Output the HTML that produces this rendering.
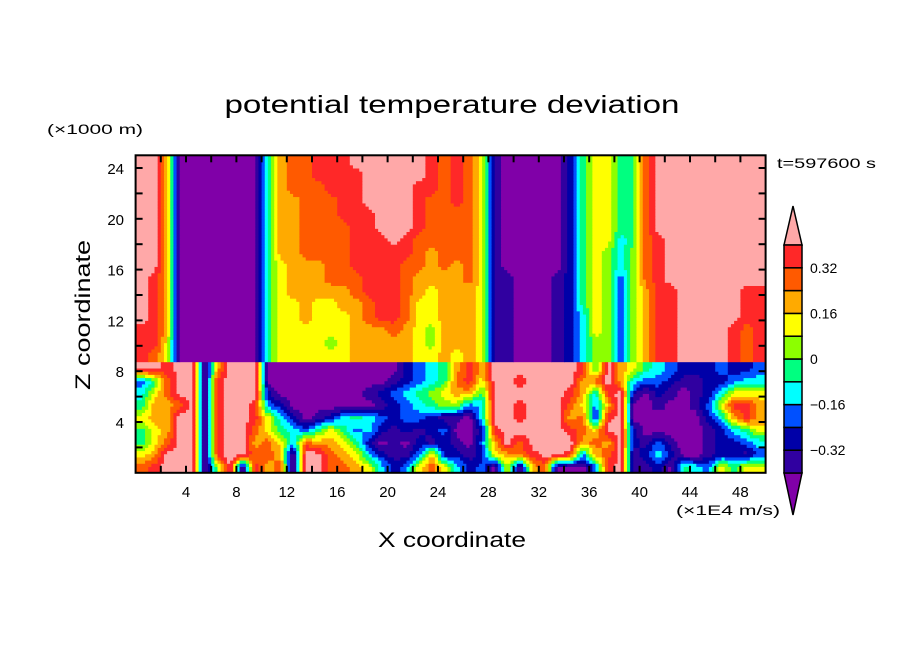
<!DOCTYPE html>
<html><head><meta charset="utf-8"><style>
html,body{margin:0;padding:0;background:#fff;}
svg{display:block;font-family:"Liberation Sans",sans-serif;}
</style></head><body>
<svg id="chart" width="904" height="654" viewBox="0 0 904 654" xmlns="http://www.w3.org/2000/svg">
<rect x="0" y="0" width="904" height="654" fill="#fff"/>
<g id="cells"></g>
<g id="axes"></g>
<g id="cbar"></g>
<text x="452" y="113" text-anchor="middle" font-size="25" textLength="455" lengthAdjust="spacingAndGlyphs">potential temperature deviation</text>
<text x="47" y="134" font-size="14" textLength="96" lengthAdjust="spacingAndGlyphs">(×1000 m)</text>
<text x="777" y="168" font-size="14" textLength="99" lengthAdjust="spacingAndGlyphs">t=597600 s</text>
<text x="676" y="515" font-size="14" textLength="104" lengthAdjust="spacingAndGlyphs">(×1E4 m/s)</text>
<text x="452" y="547" text-anchor="middle" font-size="21" textLength="148" lengthAdjust="spacingAndGlyphs">X coordinate</text>
<text x="0" y="0" transform="translate(90,315) rotate(-90)" text-anchor="middle" font-size="21" textLength="150" lengthAdjust="spacingAndGlyphs">Z coordinate</text>
</svg>
<script>
const levelColors = ["#8000a8","#3000a0","#0000a8","#0050ff","#00ffff","#00ff80","#8cff00","#ffff00","#ffaa00","#ff5a00","#ff2828","#ffa8a8"];
const levelLabels = ["0.32","0.16","0","-0.16","-0.32"];
const levelLabelBands = [9,7,5,3,1];
const xTicks = [4,8,12,16,20,24,28,32,36,40,44,48];
const yTicks = [4,8,12,16,20,24];
const inversionHeight = 8.7;
// level index per column x=0..49; first 16 values: upper layer rows z=24..9, last 9 values: lower layer rows z=8..0
const fieldCols = [
[11,11,11,11,11,11,11,11,11,11,11,11,11,10,10,10, 11,3,4,5,7,5,5,7,9],
[11,11,11,11,11,11,11,11,11,10,10,10,10,10,10,9, 11,5,7,8,8,7,7,8,10],
[8,8,8,8,8,8,8,8,8,8,8,8,8,8,7,7, 10,9,9,8,8,8,9,11,11],
[0,0,0,0,0,0,0,0,0,0,0,0,0,0,0,0, 11,11,11,9,11,11,11,11,11],
[0,0,0,0,0,0,0,0,0,0,0,0,0,0,0,0, 11,11,11,11,11,11,11,11,11],
[0,0,0,0,0,0,0,0,0,0,0,0,0,0,0,0, 0,0,0,0,0,0,0,0,0],
[0,0,0,0,0,0,0,0,0,0,0,0,0,0,0,0, 8,10,10,10,10,10,10,10,6],
[0,0,0,0,0,0,0,0,0,0,0,0,0,0,0,0, 11,11,11,11,11,11,11,11,11],
[0,0,0,0,0,0,0,0,0,0,0,0,0,0,0,0, 11,11,11,11,11,11,11,11,0],
[0,0,0,0,0,0,0,0,0,0,0,0,0,0,0,0, 11,11,11,10,10,9,8,9,10],
[5,5,5,5,5,5,5,5,5,5,5,5,5,5,5,5, 0,0,2,3,7,7,9,9,8],
[8,8,8,8,8,8,8,8,7,7,7,7,7,7,7,7, 0,0,0,2,4,5,7,8,9],
[9,9,9,8,8,8,8,8,8,8,8,7,7,7,7,7, 0,0,0,0,2,4,4,0,0],
[9,9,9,9,9,9,9,9,8,8,8,8,8,7,7,7, 0,0,0,0,0,3,9,11,11],
[10,10,9,9,9,9,9,9,8,8,8,7,7,7,7,7, 0,0,0,0,1,5,8,11,11],
[10,10,10,9,9,9,9,9,9,9,8,7,7,7,6,7, 0,0,0,0,2,7,8,9,9],
[10,10,10,10,10,9,9,9,9,9,8,8,7,7,7,7, 0,0,0,0,4,5,7,8,9],
[11,10,10,10,10,10,10,10,10,9,9,8,8,8,8,8, 0,0,0,0,5,3,5,7,8],
[11,11,11,11,10,10,10,10,10,10,10,9,9,8,8,8, 0,0,1,0,4,4,2,4,7],
[11,11,11,11,11,11,10,10,10,10,10,10,10,8,8,8, 0,0,2,1,3,2,0,2,4],
[11,11,11,11,11,11,11,10,10,10,10,10,10,9,8,8, 0,1,3,2,2,1,1,1,2],
[11,11,11,11,11,11,10,10,9,9,9,9,9,8,8,8, 2,2,4,3,3,2,0,1,3],
[11,11,10,10,10,10,9,9,9,8,8,7,7,7,7,7, 3,3,5,4,3,1,2,3,7],
[10,10,10,9,9,9,9,8,8,8,7,7,7,6,6,7, 4,4,6,5,2,2,1,8,9],
[9,9,9,9,9,9,9,9,9,8,8,8,8,8,8,8, 5,5,7,6,1,3,2,2,7],
[10,10,10,10,9,9,9,9,8,8,8,8,8,8,8,7, 8,9,8,6,1,0,1,2,4],
[9,9,9,9,9,9,9,9,9,9,8,8,8,8,8,8, 10,10,8,3,0,0,0,1,2],
[7,7,7,7,7,7,7,7,7,7,7,7,7,7,7,7, 8,7,5,4,4,2,3,2,3],
[1,1,1,1,1,1,1,1,1,1,1,1,1,1,1,1, 11,11,11,11,11,10,8,7,0],
[0,0,0,0,0,0,0,0,0,1,1,1,1,1,1,1, 11,11,11,11,11,11,11,8,7],
[0,0,0,0,0,0,0,0,0,0,0,0,0,0,0,0, 11,10,11,10,10,11,9,9,0],
[0,0,0,0,0,0,0,0,0,0,0,0,0,0,0,0, 11,11,11,11,11,11,11,10,8],
[0,0,0,0,0,0,0,0,0,0,0,0,0,0,0,0, 11,11,11,11,11,11,11,11,9],
[0,0,0,0,0,0,0,0,0,1,1,1,1,1,1,1, 11,11,11,11,11,11,11,11,0],
[2,2,2,2,2,2,2,2,2,2,2,2,2,2,2,2, 11,11,10,9,8,10,11,10,0],
[5,5,5,5,5,5,5,5,5,5,5,5,4,4,4,4, 10,8,8,7,9,9,8,3,0],
[7,7,7,7,7,7,7,7,7,7,7,7,7,7,6,6, 5,9,4,3,2,7,9,8,3],
[7,7,7,7,7,7,7,6,6,6,6,6,6,6,6,6, 11,11,10,8,10,11,8,9,10],
[5,5,5,5,5,5,4,4,4,3,3,3,3,2,2,2, 8,8,11,11,11,11,11,11,11],
[5,5,5,5,5,5,5,6,6,6,6,6,6,6,6,6, 7,4,2,0,0,2,2,1,1],
[9,9,9,9,9,9,9,9,9,9,8,8,8,8,8,8, 5,3,0,0,0,0,1,2,1],
[11,11,11,11,11,11,10,10,10,10,10,10,10,10,10,10, 4,3,2,1,0,0,3,4,2],
[11,11,11,11,11,11,11,11,11,11,10,10,10,10,10,10, 3,2,1,0,0,0,1,2,0],
[11,11,11,11,11,11,11,11,11,11,11,11,11,11,11,11, 2,1,0,0,0,0,0,0,5],
[11,11,11,11,11,11,11,11,11,11,11,11,11,11,11,11, 2,1,1,1,0,0,0,0,4],
[11,11,11,11,11,11,11,11,11,11,11,11,11,11,11,11, 2,2,2,3,2,1,1,1,3],
[11,11,11,11,11,11,11,11,11,11,11,11,11,11,11,11, 3,2,4,7,4,2,2,2,7],
[11,11,11,11,11,11,11,11,11,11,11,11,11,10,10,10, 2,3,7,10,8,4,2,2,5],
[11,11,11,11,11,11,11,11,11,11,10,10,10,9,9,9, 2,4,7,10,10,5,3,1,7],
[11,11,11,11,11,11,11,11,11,11,10,10,10,10,10,10, 3,4,7,8,8,7,4,3,7]
];

const NS = "http://www.w3.org/2000/svg";
const X0 = 135.6, X1 = 765.6, Y0 = 472.8, Y1 = 155.3;
const xMax = 50, zMax = 25;
function xScale(v){ return X0 + (X1 - X0) * v / xMax; }
function yScale(v){ return Y0 - (Y0 - Y1) * v / zMax; }
function mk(tag, attrs){ const e = document.createElementNS(NS, tag); for (const k in attrs) e.setAttribute(k, attrs[k]); return e; }

const nCols = fieldCols.length, nUpper = 16, nLower = 9;
// grid value at column c, layer row: returns level
function cellVal(c, z, upper){
  c = Math.max(0, Math.min(nCols - 1, c));
  const col = fieldCols[c];
  if (upper) { // upper rows z = 9..24 -> index 24 - z
    const zz = Math.max(9, Math.min(24, z));
    return col[24 - zz];
  }
  const zz = Math.max(0, Math.min(8, z));
  return col[nUpper + (8 - zz)];
}
function sample(x, z){
  const upper = z >= inversionHeight;
  let fx = x - 0.5, fz;
  if (upper) fz = 9 + (z - inversionHeight) / (zMax - inversionHeight) * 16 - 0.5;
  else fz = z / inversionHeight * 9 - 0.5;
  const c0 = Math.floor(fx), r0 = Math.floor(fz);
  const tx = fx - c0, tz = fz - r0;
  let a = cellVal(c0, r0, upper), b = cellVal(c0 + 1, r0, upper);
  let c = cellVal(c0, r0 + 1, upper), d = cellVal(c0 + 1, r0 + 1, upper);
  if (!upper && r0 + 1 > 8) { c = a; d = b; }
  if (upper && r0 < 9) { a = c; b = d; }
  const v = (a * (1 - tx) + b * tx) * (1 - tz) + (c * (1 - tx) + d * tx) * tz;
  return Math.max(0, Math.min(11, Math.round(v)));
}

const cells = document.getElementById("cells");
const SX = 4, SZ = 4;
const nx = nCols * SX, nz = zMax * SZ;
for (let j = 0; j < nz; j++) {
  const zc = (j + 0.5) / SZ;
  const yt = yScale((j + 1) / SZ), yb = yScale(j / SZ);
  let runStart = 0, runLvl = sample(0.5 / SX, zc);
  for (let i = 1; i <= nx; i++) {
    const lvl = i < nx ? sample((i + 0.5) / SX, zc) : -1;
    if (lvl !== runLvl) {
      const x0 = xScale(runStart / SX), x1 = xScale(i / SX);
      const r = mk("rect", {x: x0.toFixed(2), y: yt.toFixed(2), width: (x1 - x0 + 0.5).toFixed(2), height: (yb - yt + 0.5).toFixed(2), fill: levelColors[runLvl]});
      
      
      cells.appendChild(r);
      runStart = i; runLvl = lvl;
    }
  }
}

const axes = document.getElementById("axes");
const frame = mk("rect", {x: X0, y: Y1, width: X1 - X0, height: Y0 - Y1, fill: "none", stroke: "#000", "stroke-width": 2});


axes.appendChild(frame);
for (let v = 2; v < xMax; v += 2) {
  const x = xScale(v);
  const t1 = mk("line", {x1: x, y1: Y0, x2: x, y2: Y0 - 7, stroke: "#000", "stroke-width": 2});
  
  
  axes.appendChild(t1);
  const t2 = mk("line", {x1: x, y1: Y1, x2: x, y2: Y1 + 7, stroke: "#000", "stroke-width": 2});
  
  
  axes.appendChild(t2);
}
for (let v = 2; v < zMax; v += 2) {
  const y = yScale(v);
  const t1 = mk("line", {x1: X0, y1: y, x2: X0 + 7, y2: y, stroke: "#000", "stroke-width": 2});
  
  
  axes.appendChild(t1);
  const t2 = mk("line", {x1: X1, y1: y, x2: X1 - 7, y2: y, stroke: "#000", "stroke-width": 2});
  
  
  axes.appendChild(t2);
}
xTicks.forEach(v => {
  const t = mk("text", {x: xScale(v), y: 497, "text-anchor": "middle", "font-size": 15});
  t.textContent = v;
  
  
  axes.appendChild(t);
});
yTicks.forEach(v => {
  const t = mk("text", {x: 124, y: yScale(v) + 6, "text-anchor": "end", "font-size": 15});
  t.textContent = v;
  
  
  axes.appendChild(t);
});

const cbar = document.getElementById("cbar");
const CX0 = 784, CX1 = 802, CTop = 245, CBot = 473, nBox = levelColors.length - 2;
const boxH = (CBot - CTop) / nBox;
function bandTop(idx){ return CBot - idx * boxH; }
const triTop = mk("polygon", {points: `${CX0},${CTop} ${CX1},${CTop} ${(CX0+CX1)/2},206`, fill: levelColors[levelColors.length-1], stroke: "#000", "stroke-width": 1.5});


cbar.appendChild(triTop);
const triBot = mk("polygon", {points: `${CX0},${CBot} ${CX1},${CBot} ${(CX0+CX1)/2},515`, fill: levelColors[0], stroke: "#000", "stroke-width": 1.5});


cbar.appendChild(triBot);
for (let i = 1; i <= nBox; i++) {
  const yb = bandTop(i - 1), yt = bandTop(i);
  const b = mk("rect", {x: CX0, y: yt, width: CX1 - CX0, height: yb - yt, fill: levelColors[i], stroke: "#000", "stroke-width": 1.5});
  
  
  cbar.appendChild(b);
}
levelLabels.forEach((lab, i) => {
  const y = bandTop(levelLabelBands[i]);
  const t = mk("text", {x: 810, y: y + 5, "font-size": 14});
  t.textContent = lab.replace("-", "\u2212");
  
  
  cbar.appendChild(t);
});
</script>
</body></html>
